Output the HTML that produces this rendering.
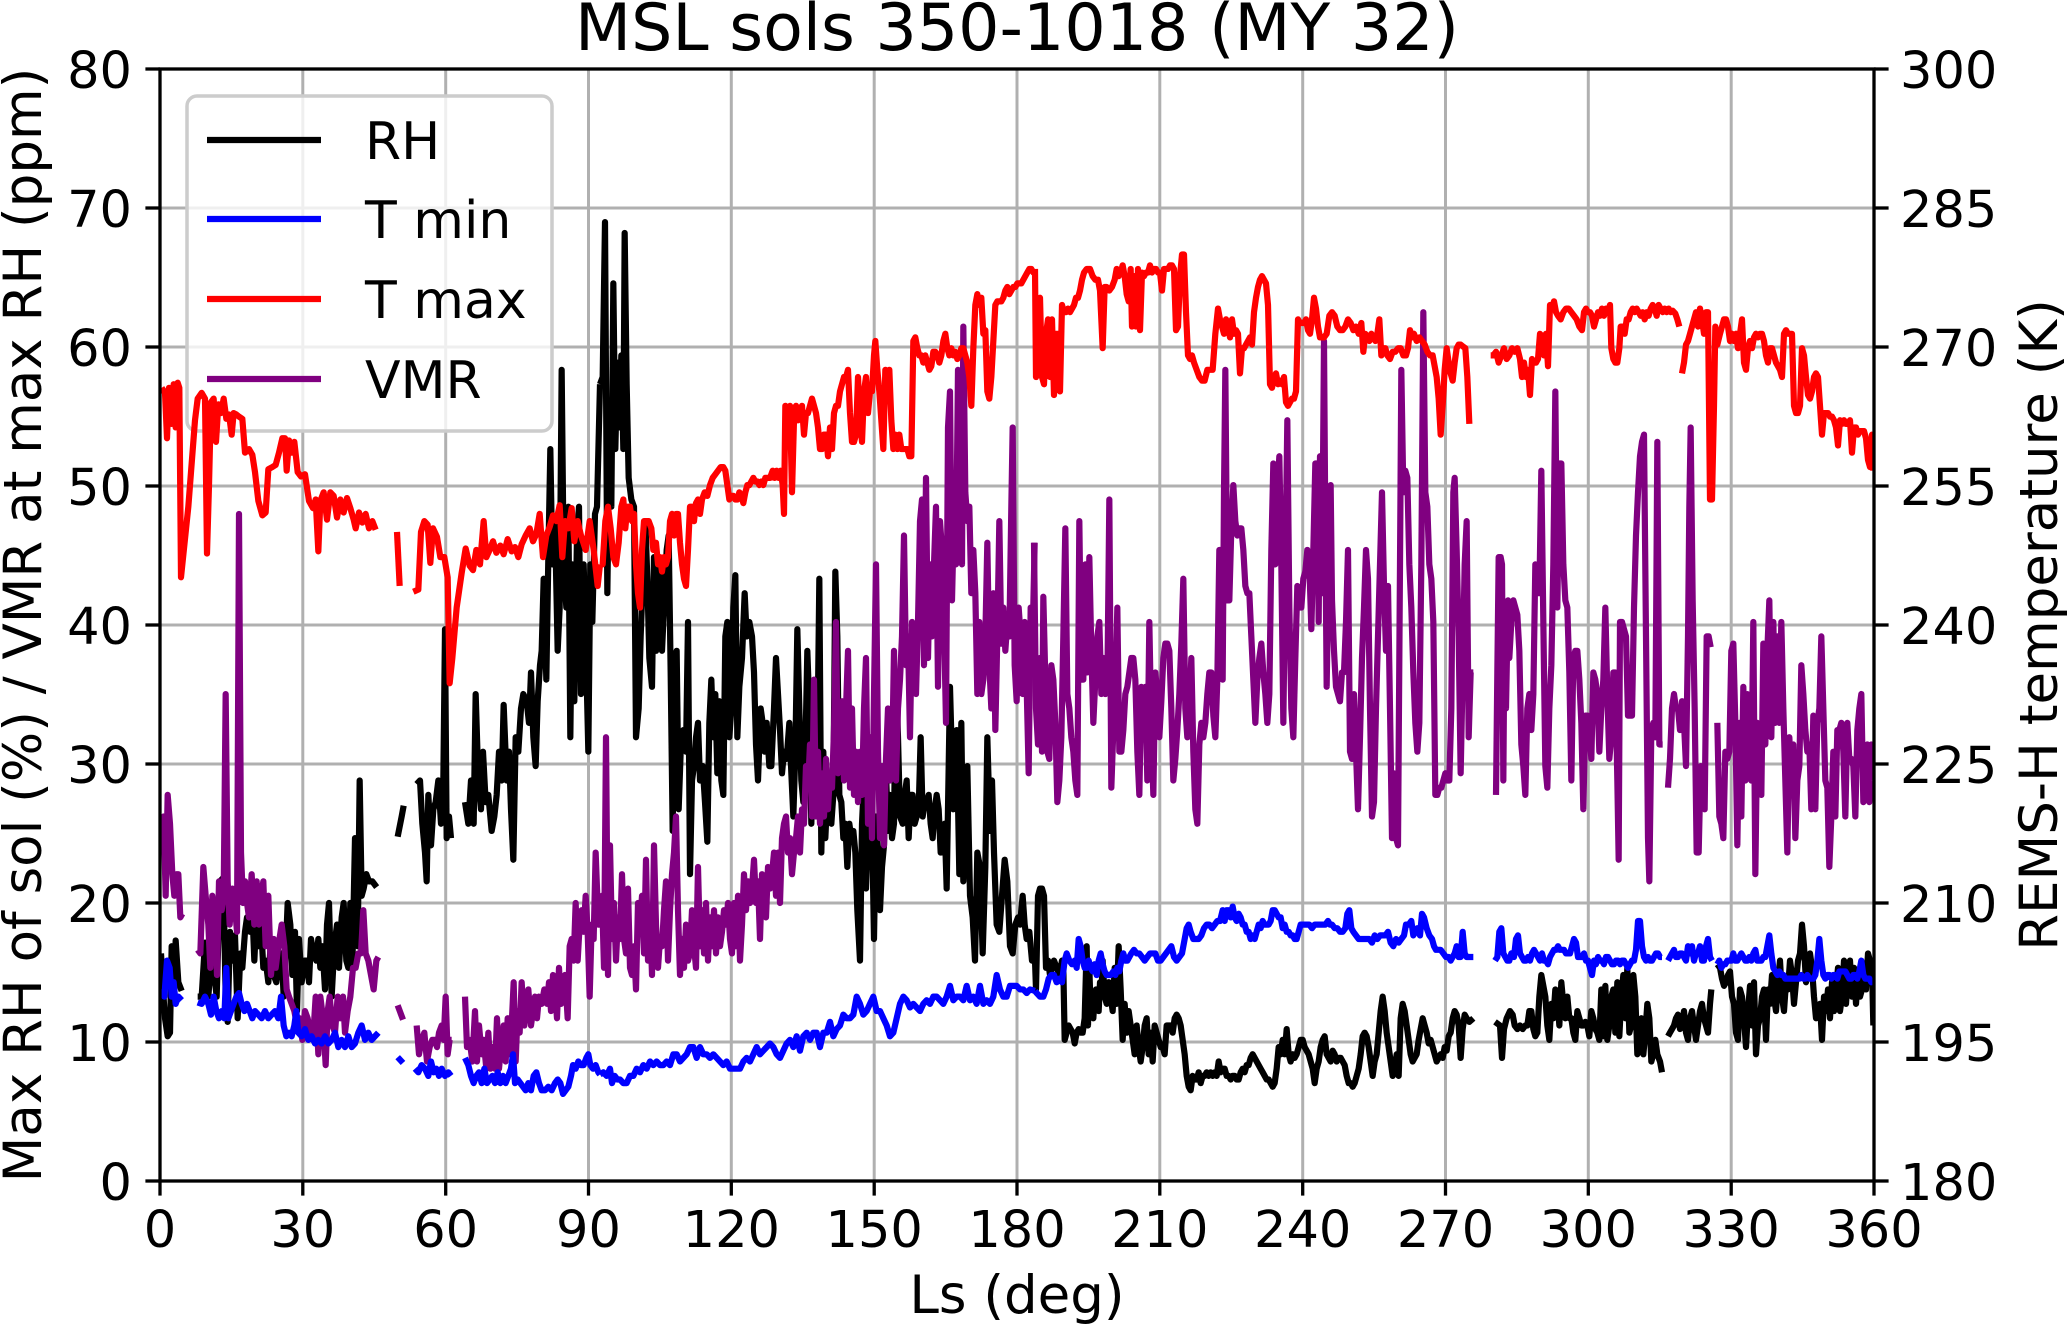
<!DOCTYPE html>
<html><head><meta charset="utf-8"><style>
html,body{margin:0;padding:0;background:#fff;}
svg{display:block;}
text{font-family:"DejaVu Sans","Liberation Sans",sans-serif;fill:#000;}
.s{fill:none;stroke-width:6.2;vector-effect:non-scaling-stroke;stroke-linejoin:round;stroke-linecap:butt;}
.k{stroke:#000;} .p{stroke:#800080;} .b{stroke:#0000ff;} .r{stroke:#ff0000;}
.g{stroke:#b0b0b0;stroke-width:3;}
.t{stroke:#000;stroke-width:3.3;}
</style></head><body>
<svg width="2067" height="1325" viewBox="0 0 2067 1325" xmlns="http://www.w3.org/2000/svg">
<defs><clipPath id="ax" clipPathUnits="userSpaceOnUse"><rect x="160" y="69" width="1714" height="1112"/></clipPath></defs>
<rect x="0" y="0" width="2067" height="1325" fill="#fff"/>
<!-- grid -->
<g class="g">
<line x1="302.8" y1="69" x2="302.8" y2="1181"/><line x1="445.7" y1="69" x2="445.7" y2="1181"/><line x1="588.5" y1="69" x2="588.5" y2="1181"/><line x1="731.3" y1="69" x2="731.3" y2="1181"/><line x1="874.2" y1="69" x2="874.2" y2="1181"/><line x1="1017" y1="69" x2="1017" y2="1181"/><line x1="1159.8" y1="69" x2="1159.8" y2="1181"/><line x1="1302.7" y1="69" x2="1302.7" y2="1181"/><line x1="1445.5" y1="69" x2="1445.5" y2="1181"/><line x1="1588.3" y1="69" x2="1588.3" y2="1181"/><line x1="1731.2" y1="69" x2="1731.2" y2="1181"/>
<line x1="160" y1="1042" x2="1874" y2="1042"/><line x1="160" y1="903" x2="1874" y2="903"/><line x1="160" y1="764" x2="1874" y2="764"/><line x1="160" y1="625" x2="1874" y2="625"/><line x1="160" y1="486" x2="1874" y2="486"/><line x1="160" y1="347" x2="1874" y2="347"/><line x1="160" y1="208" x2="1874" y2="208"/>
</g>
<!-- ax1 series: RH (black), VMR (purple) -->
<g clip-path="url(#ax)">
<g transform="translate(155,60) scale(0.33333,0.7205)">
<polyline class="s k" points="18,1240 24,1290 30,1330 38,1355 45,1350 50,1230 56,1300 62,1222 70,1280 80,1292"/>
<polyline class="s k" points="128,1300 140,1300 150,1225 160,1300 168,1250 178,1270 185,1300 195,1140 205,1135 212,1300 218,1335 225,1210 232,1250 240,1215 248,1330 256,1240 262,1260 270,1210 276,1190 285,1210 292,1180 298,1250 305,1180 312,1230 318,1200 325,1260 332,1250 340,1280 348,1220 356,1270 364,1280 372,1250 380,1240 386,1300 392,1240 398,1170 406,1200 412,1270 420,1210 426,1320 432,1220 440,1280 448,1250 455,1250 462,1280 468,1220 476,1240 484,1250 490,1220 496,1260 502,1230 510,1290 516,1200 522,1170 530,1300 538,1230 546,1200 552,1260 560,1190 566,1170 574,1250 580,1260 586,1170 592,1260 600,1080 608,1230 614,1000 620,1160 626,1150 634,1130 642,1140 652,1140 665,1148"/>
<polyline class="s k" points="728,1078 740,1050 746,1035"/>
<polyline class="s k" points="785,1005 795,1000 802,1060 810,1100 815,1140 820,1020 828,1090 835,1040 842,1030 850,1000 858,1060 865,1000 870,790 875,1080 882,1050 888,1080"/>
<polyline class="s k" points="930,1030 940,1060 948,1000 956,1060 962,880 970,1000 978,1040 984,960 992,1030 1000,1020 1010,1070 1018,1050 1025,1020 1032,960 1040,1000 1046,895 1055,1000 1062,960 1068,1040 1075,1110 1082,940 1090,960 1098,900 1105,880 1115,890 1122,920 1128,850 1135,940 1142,980 1148,890 1155,840 1160,820 1166,720 1174,860 1180,690 1186,540 1192,700 1200,640 1208,820 1214,760 1220,430 1226,700 1234,760 1240,620 1246,940 1252,700 1258,890 1266,660 1272,620 1278,880 1286,700 1292,800 1300,960 1306,700 1312,780 1320,630 1326,620 1335,450"/>
<polyline class="s p" points="18,1090 26,1050 32,1160 38,1020 45,1060 52,1130 58,1160 64,1130 70,1130 76,1190 82,1185"/>
<polyline class="s p" points="128,1235 136,1240 145,1120 152,1160 160,1200 166,1260 172,1160 180,1200 186,1270 192,1140 200,1180 206,1160 212,880 218,1140 224,1200 232,1150 238,1165 246,1210 252,630 258,1100 264,1170 270,1140 276,1170 282,1190 290,1130 298,1200 305,1140 312,1200 318,1160 325,1140 332,1230 340,1160 348,1270 356,1220 362,1260 370,1230 380,1200 388,1230 395,1290 402,1300 410,1310 418,1320 426,1340 434,1330 442,1360 450,1320 458,1330 466,1350 474,1360 482,1300 490,1380 496,1300 504,1330 512,1395 518,1320 524,1300 532,1340 540,1350 548,1300 556,1330 564,1300 570,1350 578,1320 586,1300 594,1260 602,1260 610,1240 618,1240 625,1180 632,1240 640,1250 648,1270 656,1290 664,1250 670,1245"/>
<polyline class="s p" points="728,1312 744,1332"/>
<polyline class="s p" points="785,1340 792,1380 800,1360 808,1350 816,1390 824,1370 832,1360 840,1360 846,1370 852,1350 860,1340 866,1360 872,1300 878,1380 884,1360 890,1360"/>
<polyline class="s p" points="930,1300 936,1370 944,1360 952,1390 960,1320 966,1390 972,1340 980,1380 986,1360 994,1400 1000,1350 1006,1400 1012,1370 1020,1400 1026,1330 1032,1400 1040,1360 1046,1340 1052,1390 1058,1330 1064,1380 1070,1340 1076,1280 1082,1390 1088,1320 1094,1350 1100,1280 1108,1340 1114,1310 1120,1290 1128,1340 1134,1320 1140,1300 1146,1330 1152,1300 1160,1310 1168,1290 1176,1310 1182,1280 1188,1320 1194,1270 1200,1290 1206,1330 1212,1260 1218,1310 1224,1290 1230,1270 1238,1330 1244,1230 1250,1220 1256,1250 1262,1170 1268,1250 1274,1200 1280,1180 1286,1210 1292,1160 1298,1210 1304,1300 1310,1200 1316,1220 1322,1100 1330,1200 1335,1200"/>
</g>
<g transform="translate(590,60) scale(0.33333,0.7205)">
<polyline class="s k" points="30,450 38,440 45,225 52,740 58,530 64,620 70,310 76,540 82,420 88,510 94,410 100,540 104,240 110,450 116,580 124,610 132,620 138,940 146,900 152,800 160,700 166,640 172,720 178,830 186,870 192,690 198,820 204,800 210,700 216,820 222,760 230,680 236,660 242,850 248,1070 254,830 260,820 266,1040 272,960 280,930 288,960 294,780 300,1130 306,1000 312,980 318,940 324,920 330,1000 338,980 345,1030 352,1085 358,920 364,860 370,940 376,880 382,990 388,890 394,1000 400,1020 406,800 412,780 418,940 424,900 430,760 436,715 442,940 448,870 456,830 464,740 470,800 478,780 486,800 492,850 498,950 504,1000 512,900 518,920 524,960 530,920 538,980 544,980 552,900 558,830 564,880 570,930 576,990 582,960 590,970 598,920 604,990 610,1050 616,960 622,790 628,900 634,1000 640,1030 646,960 652,820 658,900 664,1060 670,940 676,1040 682,960 688,720 694,1100 700,960 706,1080 712,1020 718,1050 724,1060 730,1020 736,710 742,800 748,1020 754,1030 760,1080 766,1060 772,1120 778,1060 784,1080 790,1070 796,1100 802,1180 810,1250 816,1060 822,1000 828,1150 834,1060 840,1120 846,1060 852,1220 858,1050 864,1100 870,1180 876,1120 882,1090 888,990 894,1070 900,1020 906,1080 912,1060 918,850 924,940 930,1050 938,1060 944,1020 950,1000 956,1080 962,1020 968,1020 974,1060 980,1050 986,1040 992,940 998,1050 1004,1030 1010,1030 1016,1020 1022,1060 1028,1080 1034,1040 1040,1020 1046,1040 1052,1100 1058,1080 1064,1060 1070,1150 1080,870 1090,1040 1100,930 1108,1130 1114,920 1120,1140 1126,1060 1132,980 1140,1160 1148,1190 1155,1250 1162,1100 1170,1120 1178,1240 1186,1120 1192,940 1200,1070 1206,1000 1212,1100 1220,1200 1228,1210 1236,1160 1244,1110 1252,1140 1260,1230 1268,1240 1276,1200 1284,1190 1290,1200 1298,1160 1304,1200 1310,1220 1318,1210 1326,1250 1335,1250"/>
<polyline class="s p" points="30,1200 36,1160 42,1260 48,940 54,1270 60,1090 66,1220 72,1170 78,1250 84,1190 90,1220 96,1130 102,1220 108,1240 114,1150 120,1260 126,1270 132,1230 138,1290 144,1170 150,1200 156,1160 162,1240 168,1110 174,1250 180,1180 186,1270 192,1090 198,1200 204,1260 210,1220 216,1230 222,1180 228,1140 234,1250 240,1180 246,1130 252,1100 258,1050 264,1180 270,1270 276,1220 282,1260 288,1200 294,1250 300,1240 306,1180 312,1230 318,1260 324,1120 330,1230 336,1180 342,1240 348,1170 354,1250 360,1190 366,1230 372,1180 378,1240 384,1190 390,1230 396,1210 402,1180 408,1200 414,1170 420,1220 426,1240 432,1170 438,1230 444,1160 450,1250 456,1200 462,1130 468,1180 474,1140 480,1170 486,1150 492,1110 498,1170 504,1140 510,1220 516,1130 522,1150 528,1190 534,1120 540,1150 546,1130 552,1100 558,1160 564,1100 570,1170 576,1080 582,1060 588,1050 594,1100 600,1080 606,1130 612,1100 618,1080 624,1050 630,1100 636,1040 642,1060 648,980 654,1010 660,950 666,1050 672,860 678,1050 684,960 690,1060 696,990 702,1050 708,970 714,1040 720,990 726,1010 732,930 738,780 744,990 750,960 756,890 762,1000 768,900 774,820 780,1010 786,900 792,1020 798,960 804,1030 810,960 816,1020 822,900 828,830 834,1060 840,940 846,1080 852,880 858,700 864,960 870,1080 876,980 882,1090 888,970 894,900 900,1000 906,980 912,820 918,1000 924,900 930,860 936,800 942,660 948,840 954,800 960,940 966,780 972,800 978,880 984,780 990,640 996,610 1002,840 1008,580 1014,830 1020,700 1026,800 1032,700 1038,620 1044,870 1050,640 1056,680 1062,780 1068,920 1074,510 1080,460 1086,750 1092,630 1098,700 1104,430 1110,600 1116,700 1120,370 1126,600 1132,640 1138,620 1144,740 1150,680 1156,740 1162,880 1168,780 1174,880 1180,860 1186,800 1192,670 1198,840 1204,900 1210,740 1216,930 1222,800 1228,640 1234,810 1240,760 1246,820 1252,780 1258,800 1264,620 1268,510 1274,840 1280,890 1286,760 1292,800 1298,880 1304,780 1310,870 1316,990 1322,760 1328,800 1334,670"/>
</g>
<g transform="translate(1030,60) scale(0.33333,0.7205)">
<polyline class="s k" points="15,1250 18,1290 24,1160 30,1150 36,1150 42,1160 48,1260 54,1250 60,1270 66,1260 72,1250 80,1260 88,1270 96,1250 100,1260 104,1360 110,1350 116,1340 122,1345 128,1350 134,1365 140,1350 146,1345 152,1350 158,1350 164,1330 170,1230 174,1340 178,1260 182,1320 186,1300 190,1330 194,1300 198,1290 202,1310 206,1320 210,1280 214,1300 218,1250 224,1300 230,1310 236,1280 242,1300 248,1320 254,1260 260,1310 266,1230 272,1290 278,1360 284,1310 290,1350 296,1320 302,1340 308,1360 314,1380 320,1340 326,1370 332,1390 338,1370 344,1340 350,1330 356,1380 362,1350 368,1390 374,1340 380,1350 386,1360 392,1370 398,1370 404,1380 410,1340 416,1340 422,1340 428,1350 434,1330 440,1325 446,1330 452,1340 458,1360 464,1380 470,1410 476,1425 482,1430 488,1410 494,1415 500,1415 506,1405 512,1420 518,1410 524,1410 530,1405 536,1410 542,1405 548,1410 554,1405 560,1410 566,1390 572,1405 578,1400 584,1400 590,1410 596,1410 602,1415 608,1410 614,1410 620,1415 626,1415 632,1405 638,1400 644,1405 650,1395 656,1395 662,1385 668,1380 674,1385 680,1390 686,1395 692,1400 698,1405 704,1410 710,1415 716,1415 722,1420 728,1425 734,1420 740,1400 746,1370 752,1380 758,1360 764,1380 770,1345 776,1380 782,1390 788,1380 794,1385 800,1380 806,1370 812,1360 818,1360 824,1370 830,1375 836,1380 842,1390 848,1400 854,1420 860,1400 866,1390 872,1370 878,1360 884,1355 890,1380 896,1385 902,1390 908,1375 914,1380 920,1390 926,1385 932,1385 938,1390 944,1395 950,1410 956,1420 962,1420 968,1425 974,1420 980,1410 986,1400 992,1380 998,1355 1004,1350 1010,1355 1016,1370 1022,1390 1028,1410 1034,1390 1040,1380 1046,1350 1052,1320 1058,1300 1064,1320 1070,1350 1076,1370 1082,1390 1088,1410 1094,1400 1100,1380 1106,1410 1112,1330 1118,1310 1124,1320 1130,1340 1136,1360 1142,1380 1148,1390 1154,1385 1160,1380 1166,1360 1172,1345 1178,1330 1184,1340 1190,1350 1196,1365 1202,1360 1208,1370 1214,1380 1220,1390 1226,1385 1232,1380 1238,1385 1244,1370 1250,1375 1256,1355 1262,1350 1268,1330 1274,1320 1280,1325 1286,1340 1292,1385 1298,1345 1304,1325 1310,1330 1318,1335 1330,1330"/>
<polyline class="s p" points="12,670 18,900 24,950 30,830 36,960 40,745 46,860 52,960 58,970 64,840 70,860 76,920 82,1030 88,1000 94,940 100,800 106,650 112,880 118,900 124,940 130,960 136,1000 142,1020 148,640 154,860 160,860 166,700 172,850 178,690 184,820 190,920 196,860 202,800 208,780 214,880 220,830 226,880 232,870 238,610 244,1010 250,930 256,880 262,760 268,960 274,960 280,930 286,880 292,870 298,850 304,830 310,830 316,860 322,960 328,1020 334,870 340,910 346,870 352,1000 358,780 364,930 370,1020 376,850 382,880 388,940 394,890 400,830 406,810 412,810 418,820 424,900 430,1000 436,970 442,930 448,880 454,810 460,720 466,900 472,940 478,900 484,830 490,960 496,1040 502,1060 508,950 514,920 520,940 526,920 532,880 538,850 544,850 550,910 556,940 562,860 568,680 574,680 578,860 582,600 586,430 592,750 598,750 604,650 610,590 616,640 622,660 628,650 634,650 640,680 646,730 652,740 658,740 664,800 670,860 676,920 682,860 688,830 694,810 700,850 706,880 712,920 718,880 724,680 730,560 736,700 742,600 748,550 754,700 760,920 766,700 772,500 778,760 784,900 790,940 796,830 802,730 808,760 814,760 820,720 826,710 832,680 838,700 844,790 850,680 856,560 862,560 866,780 870,550 876,740 882,390 886,650 890,870 896,690 902,590 906,750 912,820 918,870 924,880 930,890 936,850 942,850 948,780 954,680 960,960 966,970 972,880 978,960 984,1040 990,940 996,830 1002,760 1008,680 1014,720 1020,900 1026,1050 1032,1030 1038,900 1044,800 1050,700 1056,600 1062,730 1068,820 1074,730 1080,900 1086,1080 1092,990 1098,1080 1104,1090 1110,700 1114,430 1120,600 1126,570 1132,580 1138,700 1144,760 1150,850 1156,920 1162,960 1168,920 1174,700 1180,350 1186,600 1192,620 1198,700 1204,720 1210,780 1216,1020 1222,1020 1228,1010 1234,1010 1240,1000 1246,990 1252,1000 1258,1000 1264,900 1270,600 1274,580 1280,680 1286,800 1292,990 1298,850 1304,700 1310,640 1316,940 1322,850 1330,850"/>
</g>
<g transform="translate(1440,60) scale(0.33333,0.7205)">
<polyline class="s k" points="165,1335 180,1340 186,1385 192,1345 200,1330 210,1320 218,1325 224,1340 232,1345 240,1340 248,1345 256,1340 262,1340 268,1320 274,1320 280,1345 286,1355 292,1350 298,1300 304,1270 310,1285 316,1300 322,1340 328,1360 334,1310 340,1330 346,1290 352,1300 358,1340 364,1280 370,1310 376,1330 382,1300 388,1330 394,1330 400,1350 406,1360 412,1320 418,1330 424,1340 430,1340 436,1335 442,1340 448,1355 454,1320 460,1330 466,1345 472,1350 478,1360 484,1290 490,1355 496,1285 502,1360 508,1340 514,1300 520,1290 526,1350 532,1280 538,1355 544,1300 550,1270 556,1330 562,1260 568,1350 574,1340 580,1270 586,1300 592,1380 598,1340 604,1330 610,1380 616,1350 622,1310 628,1330 634,1390 640,1380 646,1360 652,1380 660,1390 666,1405"/>
<polyline class="s k" points="684,1355 690,1350 696,1345 702,1340 708,1330 714,1325 720,1345 726,1340 732,1320 738,1350 744,1360 750,1330 756,1320 762,1340 768,1360 774,1340 780,1320 786,1310 792,1330 798,1340 804,1350 810,1310 814,1290"/>
<polyline class="s k" points="832,1255 840,1260 846,1275 852,1285 858,1280 864,1270 870,1265 876,1300 882,1310 888,1350 894,1360 900,1290 906,1300 912,1330 918,1370 924,1320 930,1285 936,1340 942,1280 948,1380 954,1340 960,1330 966,1300 972,1290 978,1360 984,1290 990,1310 996,1270 1002,1300 1008,1320 1014,1280 1020,1250 1026,1300 1032,1320 1038,1280 1044,1290 1050,1250 1056,1270 1062,1310 1068,1280 1074,1250 1080,1240 1086,1200 1092,1230 1098,1280 1104,1260 1110,1240 1116,1260 1122,1300 1128,1330 1134,1320 1140,1310 1146,1360 1152,1300 1158,1320 1164,1290 1170,1330 1176,1280 1182,1320 1188,1290 1194,1260 1200,1320 1206,1300 1212,1250 1218,1310 1224,1270 1230,1250 1236,1300 1242,1260 1248,1310 1254,1270 1260,1300 1266,1290 1272,1260 1278,1290 1284,1240 1290,1250 1296,1260 1300,1340"/>
<polyline class="s p" points="168,1020 172,850 176,690 182,690 186,700 190,1000 194,760 198,900 204,750 208,830 214,780 220,750 226,760 232,770 238,820 244,950 250,980 256,1020 262,900 268,880 274,930 280,880 286,700 292,740 298,740 304,570 310,780 316,980 322,1010 328,900 334,840 340,700 346,460 352,760 358,560 364,560 370,700 376,750 382,760 388,850 394,1000 400,830 406,820 412,820 418,860 424,920 430,1040 436,910 442,910 448,930 454,970 460,850 466,860 472,880 478,960 484,900 490,860 496,760 502,880 508,970 514,940 520,850 526,850 532,1000 536,1110 540,780 546,780 552,790 558,800 564,910 570,910 576,910 582,760 588,660 594,600 600,550 606,530 612,520 618,800 624,1080 628,1140 634,930 640,920 646,940 652,530 658,950 664,950 668,950"/>
<polyline class="s p" points="684,1010 690,970 696,900 702,880 708,900 714,900 720,930 726,890 732,920 738,980 744,800 748,620 752,510 758,750 764,900 770,1100 776,1100 782,980 788,990 794,1040 800,800 806,800 812,815"/>
<polyline class="s p" points="832,920 838,1050 844,1060 850,1080 856,960 862,970 868,960 874,820 880,810 886,920 892,1090 898,920 904,1050 910,870 916,1000 922,880 928,960 934,1000 940,780 946,1130 952,920 958,1010 964,1020 970,810 976,950 982,820 988,750 994,940 1000,780 1006,920 1012,800 1018,920 1024,780 1030,900 1036,1000 1042,1100 1048,940 1054,1000 1060,950 1066,1080 1072,1000 1078,980 1084,840 1090,880 1096,930 1102,960 1108,950 1114,1040 1120,910 1126,1040 1132,920 1138,900 1144,800 1150,900 1156,1000 1162,1010 1168,1120 1174,1050 1180,960 1186,1050 1192,930 1198,930 1204,920 1210,960 1216,1050 1222,920 1228,970 1234,970 1240,980 1246,1050 1252,930 1258,900 1264,880 1270,1030 1276,970 1282,950 1288,1030 1294,950 1300,1000"/>
</g>
</g>
<!-- legend -->
<rect x="187" y="96" width="365" height="335" rx="10" ry="10" fill="#fff" fill-opacity="0.8" stroke="#cccccc" stroke-width="3.5"/>
<line x1="207" y1="140" x2="321" y2="140" stroke="#000" stroke-width="6.2"/>
<line x1="207" y1="219" x2="321" y2="219" stroke="#0000ff" stroke-width="6.2"/>
<line x1="207" y1="299" x2="321" y2="299" stroke="#ff0000" stroke-width="6.2"/>
<line x1="207" y1="379" x2="321" y2="379" stroke="#800080" stroke-width="6.2"/>
<text x="365" y="159" font-size="52">RH</text>
<text x="365" y="238" font-size="52">T min</text>
<text x="365" y="318" font-size="52">T max</text>
<text x="365" y="398" font-size="52">VMR</text>
<!-- ax2 series: Tmin (blue), Tmax (red) -->
<g clip-path="url(#ax)">
<g transform="translate(155,60) scale(0.33333,0.7205)">
<polyline class="s b" points="18,1290 28,1300 36,1250 44,1260 50,1300 56,1280 62,1310 70,1300 80,1305"/>
<polyline class="s b" points="128,1308 140,1310 150,1300 160,1310 168,1325 176,1300 184,1320 192,1330 200,1320 208,1330 214,1260 220,1330 228,1320 236,1310 244,1300 252,1295 260,1310 268,1320 276,1310 284,1320 292,1330 300,1320 310,1325 320,1330 330,1320 340,1330 350,1325 360,1320 370,1330 378,1300 386,1340 394,1355 402,1350 410,1355 418,1340 424,1320 430,1350 440,1355 450,1345 460,1360 470,1355 480,1365 490,1360 500,1365 510,1355 520,1365 530,1360 540,1350 550,1370 560,1360 570,1370 580,1355 590,1370 600,1365 610,1350 620,1340 630,1360 640,1350 650,1360 660,1355 670,1350"/>
<polyline class="s b" points="728,1384 744,1392"/>
<polyline class="s b" points="780,1400 790,1405 800,1395 810,1400 820,1410 828,1390 836,1405 844,1400 852,1410 860,1400 870,1410 880,1405 888,1410"/>
<polyline class="s b" points="930,1385 940,1395 948,1410 956,1420 964,1410 972,1405 980,1420 988,1400 996,1420 1004,1415 1012,1410 1020,1420 1028,1405 1036,1420 1044,1410 1052,1420 1060,1410 1068,1400 1074,1380 1080,1420 1088,1415 1096,1420 1104,1425 1112,1430 1120,1420 1128,1430 1136,1410 1144,1405 1152,1420 1160,1430 1170,1430 1180,1425 1190,1430 1200,1420 1208,1415 1216,1420 1224,1435 1232,1430 1240,1425 1248,1410 1254,1395 1262,1400 1270,1390 1278,1395 1286,1395 1294,1385 1300,1380 1306,1395 1314,1400 1322,1395 1330,1405 1335,1408"/>
<polyline class="s r" points="20,455 30,462 36,525 42,455 50,505 56,450 62,510 68,448 73,455 78,718 100,620 120,500 128,470 140,462 150,470 156,685 162,590 168,475 176,470 183,530 190,478 198,490 206,470 214,498 222,492 230,520 236,490 244,492 252,495 262,498 270,545 282,540 292,548 300,572 310,612 322,632 332,628 340,568 352,565 362,562 372,545 382,525 390,525 395,570 402,528 410,545 418,530 428,572 438,578 450,575 462,612 474,622 482,610 490,682 496,612 506,600 516,638 526,600 536,605 546,635 556,610 566,628 576,608 586,622 596,638 602,650 612,628 622,642 632,630 642,650 652,640 662,652"/>
<polyline class="s r" points="726,655 734,730"/>
<polyline class="s r" points="775,738 790,735 798,655 808,640 818,645 826,698 834,650 846,662 856,690 868,690 878,718 884,865 892,830 905,760 920,712 932,678 944,702 954,708 964,680 975,700 986,640 994,690 1004,680 1014,668 1024,684 1036,674 1046,686 1058,665 1070,682 1080,676 1090,690 1100,672 1112,660 1124,650 1134,668 1144,658 1154,630 1164,690 1174,660 1184,648 1194,632 1204,640 1214,618 1222,690 1230,640 1240,650 1250,622 1258,668 1268,640 1278,660 1292,680 1304,640 1316,680 1328,730 1335,700"/>
</g>
<g transform="translate(590,60) scale(0.33333,0.7205)">
<polyline class="s b" points="30,1408 40,1405 50,1410 60,1400 66,1420 74,1410 82,1415 90,1415 100,1420 110,1420 120,1410 130,1410 140,1400 150,1405 160,1395 170,1400 180,1390 190,1395 200,1390 210,1395 220,1395 230,1390 240,1395 250,1380 260,1380 270,1390 280,1385 290,1380 300,1370 310,1370 320,1385 330,1370 340,1380 350,1380 360,1385 370,1380 380,1385 390,1390 400,1395 410,1390 420,1400 430,1400 440,1400 450,1400 460,1390 470,1385 480,1390 490,1380 500,1370 510,1380 520,1375 530,1370 540,1365 550,1370 560,1380 570,1385 580,1375 590,1365 600,1360 610,1370 620,1355 630,1375 640,1355 650,1350 660,1360 670,1350 680,1350 690,1370 700,1350 710,1350 720,1335 730,1355 740,1345 750,1340 760,1325 770,1330 780,1330 790,1325 800,1300 810,1310 820,1325 830,1320 840,1310 850,1300 860,1320 870,1320 880,1330 890,1340 900,1355 910,1350 920,1330 930,1310 940,1300 950,1305 960,1315 970,1310 980,1315 990,1320 1000,1310 1010,1305 1020,1310 1030,1300 1040,1300 1050,1305 1060,1310 1070,1300 1080,1285 1090,1305 1100,1300 1110,1300 1120,1305 1130,1285 1140,1305 1150,1300 1160,1310 1170,1285 1180,1310 1190,1305 1200,1310 1210,1300 1220,1270 1230,1290 1240,1300 1250,1300 1260,1285 1270,1285 1280,1285 1290,1290 1300,1290 1310,1295 1320,1290 1335,1292"/>
<polyline class="s r" points="30,700 38,700 46,640 54,620 62,650 70,690 78,700 86,670 94,620 100,610 106,650 112,620 120,620 126,640 132,630 138,700 144,740 150,760 156,680 162,640 170,640 176,640 184,650 190,680 198,670 204,700 210,690 216,710 222,690 228,700 234,690 240,640 246,630 252,660 258,630 264,630 270,670 276,700 282,720 288,730 294,680 300,620 306,620 312,640 318,615 324,610 330,630 336,610 344,600 352,605 360,590 368,580 376,575 384,570 392,565 400,565 406,570 412,590 418,610 424,605 430,605 436,610 442,610 448,600 454,605 460,615 466,600 472,590 478,590 484,585 490,580 496,585 502,585 508,590 514,585 520,590 526,580 532,580 540,580 548,570 554,580 560,570 566,580 572,570 578,590 582,630 586,480 592,490 596,530 600,480 606,600 612,500 618,480 624,500 630,490 636,480 642,520 648,490 654,490 660,480 666,470 672,480 678,490 684,510 690,540 696,540 702,520 708,520 714,550 720,510 726,540 732,490 738,480 744,480 750,460 756,450 762,440 768,440 774,430 780,490 786,530 792,530 798,520 804,440 810,500 816,530 822,460 828,440 834,490 840,460 846,460 852,410 856,390 862,430 868,460 874,500 880,540 886,430 892,440 898,430 904,500 910,540 916,520 922,540 928,520 934,540 940,540 946,540 952,540 958,550 964,550 970,390 976,385 982,400 988,410 994,410 1000,420 1006,410 1012,420 1018,430 1024,425 1030,405 1036,405 1042,410 1048,420 1054,410 1060,390 1066,380 1072,400 1078,410 1084,400 1090,410 1096,405 1102,415 1108,410 1114,400 1120,400 1126,410 1132,420 1138,440 1144,480 1150,400 1156,340 1162,325 1168,340 1174,330 1180,380 1186,375 1192,460 1198,470 1204,440 1210,390 1216,340 1222,335 1228,335 1234,335 1240,330 1246,320 1252,315 1258,325 1264,320 1270,315 1276,315 1282,310 1288,310 1294,310 1300,305 1306,300 1312,295 1318,290 1324,290 1330,295 1335,290"/>
</g>
<g transform="translate(1030,60) scale(0.33333,0.7205)">
<polyline class="s b" points="15,1292 20,1295 30,1300 40,1300 48,1290 56,1275 64,1270 72,1270 80,1280 88,1275 96,1280 104,1250 110,1240 118,1250 126,1255 134,1250 140,1260 146,1220 152,1230 158,1250 164,1260 170,1260 176,1250 182,1260 188,1265 194,1255 200,1270 206,1250 212,1240 218,1255 224,1265 230,1270 236,1270 242,1270 250,1265 256,1270 262,1260 268,1265 274,1250 280,1240 286,1250 292,1250 298,1245 304,1240 312,1235 320,1240 328,1240 336,1245 344,1250 352,1245 360,1240 368,1240 376,1240 384,1250 392,1250 400,1245 408,1240 416,1235 424,1230 432,1245 440,1250 448,1245 456,1240 464,1220 470,1205 476,1200 482,1210 490,1220 498,1220 506,1220 514,1215 522,1205 530,1200 538,1200 546,1205 554,1200 562,1195 570,1195 578,1180 584,1195 590,1180 596,1180 602,1190 608,1175 614,1190 620,1195 626,1185 632,1190 638,1200 644,1200 650,1210 656,1210 662,1220 668,1215 674,1220 680,1210 686,1200 692,1205 698,1195 704,1200 710,1200 716,1200 722,1195 728,1180 734,1180 740,1185 746,1190 752,1190 758,1205 764,1200 770,1210 776,1210 782,1215 788,1215 794,1220 800,1220 806,1210 812,1200 818,1200 824,1200 830,1200 838,1200 846,1205 854,1200 862,1200 870,1200 878,1200 886,1200 894,1195 900,1200 906,1200 914,1205 922,1205 930,1210 938,1210 946,1205 952,1185 958,1180 964,1205 970,1210 978,1215 986,1220 994,1220 1002,1220 1010,1220 1018,1220 1026,1225 1034,1215 1042,1220 1050,1215 1058,1215 1066,1215 1074,1210 1082,1225 1090,1230 1098,1220 1106,1225 1114,1220 1122,1215 1128,1200 1136,1200 1144,1195 1150,1215 1156,1210 1162,1205 1170,1215 1176,1185 1182,1190 1190,1205 1198,1215 1206,1220 1212,1230 1218,1235 1224,1235 1232,1235 1240,1240 1248,1245 1256,1245 1262,1250 1268,1245 1274,1240 1280,1230 1286,1245 1292,1245 1298,1210 1304,1240 1310,1245 1318,1245 1330,1245"/>
<polyline class="s r" points="15,290 18,440 24,420 30,330 36,440 42,450 48,380 54,360 60,440 66,360 72,465 78,380 84,380 90,460 96,340 102,350 108,350 114,345 120,350 126,345 132,340 138,330 144,330 150,320 156,305 162,295 170,290 180,290 188,300 196,305 204,305 210,320 218,400 224,315 230,315 238,320 246,315 254,305 260,290 266,300 272,295 278,285 284,300 290,325 296,335 302,290 306,370 312,300 318,370 324,290 330,375 336,295 342,300 348,295 354,295 360,285 366,295 372,290 378,290 384,295 390,295 396,320 402,290 408,290 414,290 420,285 426,285 432,290 438,375 444,370 450,300 456,270 462,270 468,350 474,410 480,415 486,410 492,420 500,430 508,440 516,445 524,445 532,430 540,430 548,430 556,380 564,345 570,360 576,370 582,380 588,360 594,370 600,385 606,360 612,380 618,375 624,380 630,435 636,400 642,400 648,395 654,390 660,385 666,395 672,350 678,330 684,315 690,305 696,300 702,305 708,310 714,340 720,450 726,455 732,440 738,435 744,450 750,445 756,450 762,440 768,475 774,480 780,475 786,470 792,470 798,460 804,360 810,365 816,365 822,365 828,360 834,375 840,380 846,360 852,330 858,345 864,370 870,385 876,385 882,385 890,380 898,355 906,350 914,355 922,370 930,375 938,375 946,370 954,360 962,365 970,375 978,370 986,380 994,365 1000,405 1006,380 1012,385 1018,390 1024,380 1030,385 1036,390 1042,380 1048,360 1054,410 1060,400 1066,400 1072,410 1080,415 1088,405 1096,405 1104,400 1112,400 1120,410 1128,410 1134,400 1140,375 1146,385 1152,380 1160,390 1168,385 1176,390 1184,395 1192,405 1200,410 1208,410 1214,425 1220,440 1226,470 1232,520 1238,480 1244,430 1250,400 1256,420 1262,435 1268,445 1274,420 1280,400 1286,395 1292,395 1300,398 1306,400 1312,440 1318,505"/>
</g>
<g transform="translate(1440,60) scale(0.33333,0.7205)">
<polyline class="s b" points="165,1250 172,1245 178,1210 184,1205 190,1240 196,1245 202,1250 208,1250 214,1240 222,1245 228,1220 234,1215 240,1240 246,1245 252,1250 258,1250 264,1245 270,1250 276,1240 282,1235 288,1240 294,1245 300,1250 306,1240 312,1250 318,1250 324,1255 330,1245 336,1240 342,1235 348,1235 354,1230 360,1235 366,1235 372,1235 378,1240 384,1240 390,1240 396,1230 402,1220 408,1225 414,1245 420,1245 426,1245 432,1240 438,1250 444,1250 450,1260 456,1270 462,1250 468,1255 474,1245 480,1250 486,1250 492,1255 498,1245 504,1245 510,1250 516,1255 522,1255 528,1250 534,1250 540,1255 546,1250 552,1250 558,1255 564,1260 570,1255 576,1250 582,1250 588,1235 594,1195 600,1195 606,1230 612,1245 618,1250 624,1245 630,1250 636,1250 642,1245 648,1240 654,1240 660,1245 666,1245"/>
<polyline class="s b" points="684,1250 690,1245 696,1240 702,1235 708,1245 714,1245 720,1240 726,1240 732,1245 738,1250 744,1230 750,1240 756,1230 762,1250 768,1240 774,1240 780,1230 786,1250 792,1250 798,1230 804,1220 810,1245 816,1250"/>
<polyline class="s b" points="832,1255 838,1250 844,1260 850,1255 856,1255 862,1250 868,1250 874,1250 880,1240 886,1250 892,1250 898,1245 904,1240 910,1245 916,1250 922,1250 928,1245 934,1250 940,1240 946,1235 952,1250 958,1250 964,1250 970,1245 976,1245 982,1230 988,1215 994,1240 1000,1260 1006,1265 1012,1270 1018,1265 1024,1270 1030,1270 1036,1275 1042,1275 1048,1275 1054,1275 1060,1275 1066,1275 1072,1275 1078,1275 1084,1270 1090,1275 1096,1275 1102,1270 1108,1275 1114,1275 1120,1275 1126,1270 1132,1250 1138,1220 1144,1250 1150,1270 1156,1275 1162,1270 1168,1270 1174,1275 1180,1270 1186,1270 1192,1275 1198,1265 1204,1265 1210,1265 1216,1265 1222,1270 1228,1275 1234,1275 1240,1270 1246,1270 1252,1275 1258,1265 1264,1250 1270,1270 1276,1275 1282,1275 1288,1275 1294,1280 1300,1275"/>
<polyline class="s r" points="152,410 160,410 168,405 176,420 184,410 192,400 200,415 208,410 216,400 224,405 232,400 240,415 246,440 252,420 258,440 264,430 270,465 276,415 282,420 288,420 294,415 300,380 306,385 312,410 318,380 324,425 330,340 336,345 342,335 348,350 354,355 362,360 370,350 378,345 386,345 394,350 402,355 410,360 418,370 426,375 432,350 438,345 444,350 450,350 456,355 462,370 468,360 474,350 480,355 486,345 492,355 498,345 504,350 510,340 514,400 520,415 526,420 532,420 538,400 542,370 548,370 554,380 560,360 566,360 572,350 578,345 584,350 590,345 596,350 602,355 608,350 614,360 620,350 626,355 632,345 638,340 644,345 650,355 656,340 662,345 668,350 674,345 680,350 686,345 692,350 698,348 706,352 712,360 718,370"/>
<polyline class="s r" points="726,435 732,420 738,395 744,390 750,380 756,370 762,360 768,350 774,370 780,345 786,360 792,380 798,350 804,350 810,610 816,610 822,480 826,370 832,395 840,380 846,370 852,360 858,360 864,370 870,390 876,380 882,390 888,380 894,400 900,380 906,360 912,420 918,430 924,400 930,390 936,400 942,385 948,380 954,385 960,380 966,380 972,390 978,410 984,420 990,400 996,400 1002,410 1008,420 1014,425 1020,430 1026,440 1032,380 1038,375 1044,380 1050,380 1056,380 1062,480 1068,490 1074,490 1080,480 1086,400 1092,410 1098,440 1104,465 1110,470 1116,460 1122,440 1128,435 1134,440 1140,480 1146,520 1152,490 1158,490 1164,490 1170,495 1176,495 1182,500 1188,510 1194,535 1200,500 1206,505 1212,500 1218,505 1224,505 1230,500 1236,545 1242,510 1248,510 1254,520 1260,515 1266,515 1272,515 1278,525 1284,555 1290,565 1296,520 1300,570"/>
</g>
</g>
<!-- spines -->
<rect x="160" y="69" width="1714" height="1112" fill="none" stroke="#000" stroke-width="3.3"/>
<!-- ticks -->
<g class="t">
<line x1="145.4" y1="1181" x2="160" y2="1181"/><line x1="145.4" y1="1042" x2="160" y2="1042"/><line x1="145.4" y1="903" x2="160" y2="903"/><line x1="145.4" y1="764" x2="160" y2="764"/><line x1="145.4" y1="625" x2="160" y2="625"/><line x1="145.4" y1="486" x2="160" y2="486"/><line x1="145.4" y1="347" x2="160" y2="347"/><line x1="145.4" y1="208" x2="160" y2="208"/><line x1="145.4" y1="69" x2="160" y2="69"/>
<line x1="1874" y1="1181" x2="1888.6" y2="1181"/><line x1="1874" y1="1042" x2="1888.6" y2="1042"/><line x1="1874" y1="903" x2="1888.6" y2="903"/><line x1="1874" y1="764" x2="1888.6" y2="764"/><line x1="1874" y1="625" x2="1888.6" y2="625"/><line x1="1874" y1="486" x2="1888.6" y2="486"/><line x1="1874" y1="347" x2="1888.6" y2="347"/><line x1="1874" y1="208" x2="1888.6" y2="208"/><line x1="1874" y1="69" x2="1888.6" y2="69"/>
<line x1="160" y1="1181" x2="160" y2="1195.6"/><line x1="302.8" y1="1181" x2="302.8" y2="1195.6"/><line x1="445.7" y1="1181" x2="445.7" y2="1195.6"/><line x1="588.5" y1="1181" x2="588.5" y2="1195.6"/><line x1="731.3" y1="1181" x2="731.3" y2="1195.6"/><line x1="874.2" y1="1181" x2="874.2" y2="1195.6"/><line x1="1017" y1="1181" x2="1017" y2="1195.6"/><line x1="1159.8" y1="1181" x2="1159.8" y2="1195.6"/><line x1="1302.7" y1="1181" x2="1302.7" y2="1195.6"/><line x1="1445.5" y1="1181" x2="1445.5" y2="1195.6"/><line x1="1588.3" y1="1181" x2="1588.3" y2="1195.6"/><line x1="1731.2" y1="1181" x2="1731.2" y2="1195.6"/><line x1="1874" y1="1181" x2="1874" y2="1195.6"/>
</g>
<!-- tick labels -->
<g font-size="51" text-anchor="end">
<text x="132" y="1200">0</text><text x="132" y="1061">10</text><text x="132" y="922">20</text><text x="132" y="783">30</text><text x="132" y="644">40</text><text x="132" y="505">50</text><text x="132" y="366">60</text><text x="132" y="227">70</text><text x="132" y="88">80</text>
</g>
<g font-size="51" text-anchor="start">
<text x="1900" y="1200">180</text><text x="1900" y="1061">195</text><text x="1900" y="922">210</text><text x="1900" y="783">225</text><text x="1900" y="644">240</text><text x="1900" y="505">255</text><text x="1900" y="366">270</text><text x="1900" y="227">285</text><text x="1900" y="88">300</text>
</g>
<g font-size="51" text-anchor="middle">
<text x="160" y="1247">0</text><text x="302.8" y="1247">30</text><text x="445.7" y="1247">60</text><text x="588.5" y="1247">90</text><text x="731.3" y="1247">120</text><text x="874.2" y="1247">150</text><text x="1017" y="1247">180</text><text x="1159.8" y="1247">210</text><text x="1302.7" y="1247">240</text><text x="1445.5" y="1247">270</text><text x="1588.3" y="1247">300</text><text x="1731.2" y="1247">330</text><text x="1874" y="1247">360</text>
</g>
<!-- labels -->
<text x="1017" y="50" font-size="65" text-anchor="middle">MSL sols 350-1018 (MY 32)</text>
<text x="1017" y="1313" font-size="53" text-anchor="middle">Ls (deg)</text>
<text transform="translate(41,625) rotate(-90)" font-size="53" text-anchor="middle">Max RH of sol (%) / VMR at max RH (ppm)</text>
<text transform="translate(2057,625) rotate(-90)" font-size="53" text-anchor="middle">REMS-H temperature (K)</text>
</svg>
</body></html>
